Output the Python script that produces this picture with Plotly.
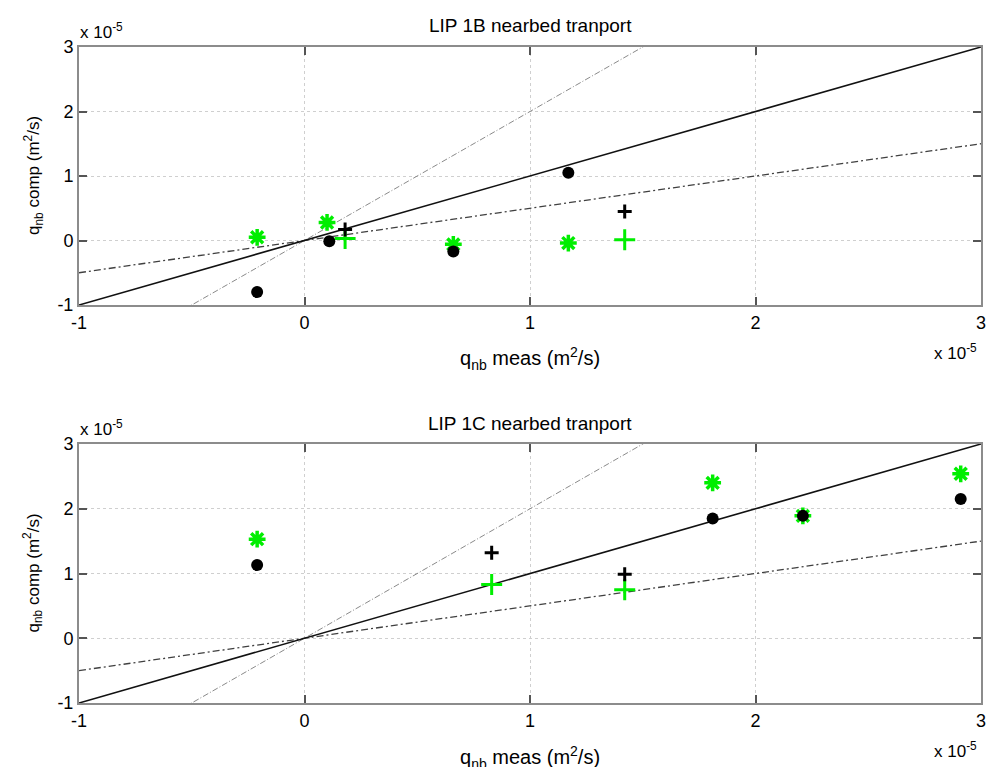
import plotly.graph_objects as go

W, H = 987, 767

# ---- data (units of 1e-5 m^2/s) ----
ref_x = [-1, 3]
# Panel 1B
b_circ_x = [-0.21, 0.11, 0.66, 1.17]
b_circ_y = [-0.80, -0.01, -0.17, 1.05]
b_ast_x = [-0.21, 0.10, 0.66, 1.17]
b_ast_y = [0.05, 0.28, -0.06, -0.04]
b_kplus_x = [0.18, 1.42]
b_kplus_y = [0.17, 0.45]
b_gplus_x = [0.18, 1.42]
b_gplus_y = [0.03, 0.01]
# Panel 1C
c_circ_x = [-0.21, 1.81, 2.21, 2.91]
c_circ_y = [1.13, 1.85, 1.89, 2.15]
c_ast_x = [-0.21, 1.81, 2.21, 2.91]
c_ast_y = [1.53, 2.40, 1.89, 2.54]
c_kplus_x = [0.83, 1.42]
c_kplus_y = [1.32, 0.99]
c_gplus_x = [0.83, 1.42]
c_gplus_y = [0.83, 0.75]

ticks = [-1, 0, 1, 2, 3]
titles = ["LIP 1B nearbed tranport", "LIP 1C nearbed tranport"]

FONT = "Liberation Sans, Arial, sans-serif"
GREEN = "#00ee00"

def px(x):
    return x / W

def py(y):
    return 1 - y / H

# pixel boxes of the axes: (left, right, top, bottom)
boxes = [(79, 981, 47, 305), (79, 981, 444, 703)]

fig = go.Figure()
panels = [
    (b_circ_x, b_circ_y, b_ast_x, b_ast_y, b_kplus_x, b_kplus_y, b_gplus_x, b_gplus_y),
    (c_circ_x, c_circ_y, c_ast_x, c_ast_y, c_kplus_x, c_kplus_y, c_gplus_x, c_gplus_y),
]
for i, (cx, cy, ax_, ay, kx, ky, gx, gy) in enumerate(panels):
    xa = "x" if i == 0 else "x2"
    ya = "y" if i == 0 else "y2"
    fig.add_trace(go.Scatter(x=ref_x, y=[2 * v for v in ref_x], mode="lines", xaxis=xa, yaxis=ya,
                             line=dict(color="#8a8a8a", width=1, dash="6px,2px,1px,2px"), showlegend=False))
    fig.add_trace(go.Scatter(x=ref_x, y=[0.5 * v for v in ref_x], mode="lines", xaxis=xa, yaxis=ya,
                             line=dict(color="#404040", width=1.3, dash="7px,3px,2px,3px"), showlegend=False))
    fig.add_trace(go.Scatter(x=ref_x, y=ref_x, mode="lines", xaxis=xa, yaxis=ya,
                             line=dict(color="#111111", width=1.6), showlegend=False))
    fig.add_trace(go.Scatter(x=ax_, y=ay, mode="markers", xaxis=xa, yaxis=ya, showlegend=False,
                             marker=dict(symbol="asterisk-open", size=14, color=GREEN,
                                         line=dict(color=GREEN, width=3.5))))
    fig.add_trace(go.Scatter(x=gx, y=gy, mode="markers", xaxis=xa, yaxis=ya, showlegend=False,
                             marker=dict(symbol="cross-thin-open", size=15, color=GREEN,
                                         line=dict(color=GREEN, width=3))))
    fig.add_trace(go.Scatter(x=cx, y=cy, mode="markers", xaxis=xa, yaxis=ya, showlegend=False,
                             marker=dict(symbol="circle", size=12, color="black", line=dict(width=0))))
    fig.add_trace(go.Scatter(x=kx, y=ky, mode="markers", xaxis=xa, yaxis=ya, showlegend=False,
                             marker=dict(symbol="cross-thin-open", size=10, color="black",
                                         line=dict(color="black", width=3))))

axis_common = dict(
    range=[-1, 3], tickvals=ticks, ticktext=[str(t) for t in ticks], automargin=False,
    showgrid=True, gridcolor="#cfcfcf", griddash="dot", gridwidth=1,
    zeroline=False, showline=True, linecolor="#8c8c8c", linewidth=2,
    mirror="allticks", ticks="inside", ticklen=8, tickwidth=1.5, tickcolor="#555555",
    tickfont=dict(family=FONT, size=18, color="black"),
)
layout = dict(
    template="none",
    width=W, height=H, margin=dict(l=0, r=0, t=0, b=0, pad=0), autosize=False,
    paper_bgcolor="white", plot_bgcolor="white", showlegend=False,
    font=dict(family=FONT, color="black"),
)
for i, (l, r, t, b) in enumerate(boxes):
    sx = "xaxis" if i == 0 else "xaxis2"
    sy = "yaxis" if i == 0 else "yaxis2"
    layout[sx] = dict(axis_common, domain=[px(l), px(r)], anchor="y" if i == 0 else "y2")
    layout[sy] = dict(axis_common, domain=[py(b), py(t)], anchor="x" if i == 0 else "x2")
fig.update_layout(**layout)

anns = []
title_y = [25, 423]
xtitle_y = [358, 757]
for i, (l, r, t, b) in enumerate(boxes):
    cxm = (l + r) / 2
    anns.append(dict(text=titles[i], x=px(cxm), y=py(title_y[i]), xref="paper", yref="paper",
                     xanchor="center", yanchor="middle", showarrow=False,
                     font=dict(family=FONT, size=19, color="black")))
    anns.append(dict(text="q<sub>nb</sub> meas (m<sup>2</sup>/s)", x=px(cxm), y=py(xtitle_y[i]),
                     xref="paper", yref="paper", xanchor="center", yanchor="middle", showarrow=False,
                     font=dict(family=FONT, size=20, color="black")))
    anns.append(dict(text="q<sub>nb</sub> comp (m<sup>2</sup>/s)", x=px(33), y=py((t + b) / 2),
                     xref="paper", yref="paper", xanchor="center", yanchor="middle",
                     showarrow=False, textangle=-90,
                     font=dict(family=FONT, size=17, color="black")))
    anns.append(dict(text="x 10<sup>-5</sup>", x=px(l - 1), y=py(t - 16), xref="paper", yref="paper",
                     xanchor="left", yanchor="middle", showarrow=False,
                     font=dict(family=FONT, size=17, color="black")))
    anns.append(dict(text="x 10<sup>-5</sup>", x=px(r - 2), y=py(b + 47), xref="paper", yref="paper",
                     xanchor="right", yanchor="middle", showarrow=False,
                     font=dict(family=FONT, size=17, color="black")))
fig.update_layout(annotations=anns)

fig.write_html("out.html")
